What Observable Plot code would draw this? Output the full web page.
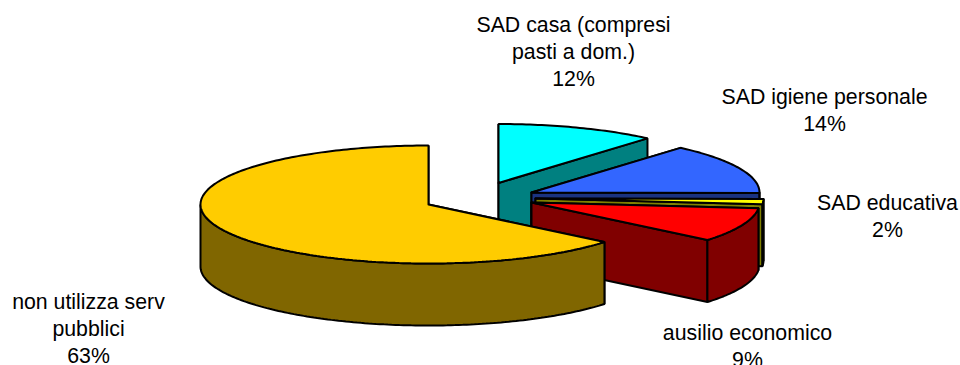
<!DOCTYPE html>
<html>
<head>
<meta charset="utf-8">
<style>
  html, body { margin: 0; padding: 0; background: #fff; overflow: hidden; }
  svg { display: block; }
</style>
<script src="https://cdn.jsdelivr.net/npm/d3@7"></script>
<script src="https://cdn.jsdelivr.net/npm/@observablehq/plot@0.6"></script>
</head>
<body>
<div id="chart"></div>
<script>
// Slices, clockwise from twelve o'clock
const categories = ["SAD casa (compresi\npasti a dom.)", "SAD igiene personale", "SAD educativa", "ausilio economico", "non utilizza serv\npubblici"];
const shares = [12, 14, 2, 9, 63];

const topColors = ["#00FFFF", "#3366FF", "#FFFF00", "#FF0000", "#FFCC00"];
const wallColors = ["#008080", "#1A3380", "#808000", "#800000", "#806600"];

// Exploded centre of each slice and anchor of each label, in chart units
const centres = [[498, 182.5], [531, 192], [535, 198], [531, 202], [428, 204]];
const labelAnchors = [[573, 12.5], [824, 84], [887, 190.5], [747, 320.5], [88, 289.5]];

const rx = 228, ry = 59, depth = 62;

// The tilted view foreshortens the sweep of the slices on the right-hand side
const sweep = d3.scaleLinear().domain([0, 12, 26, 28, 37, 100]).range([0, 40.8, 90.5, 95.5, 129.5, 360]);

const rad = (a) => (a * Math.PI) / 180;
const rim = ([cx, cy], a, drop = 0) => [cx + rx * Math.sin(rad(a)), cy - ry * Math.cos(rad(a)) + drop];
const arc = (c, a0, a1, drop = 0) => {
  const n = Math.max(2, Math.ceil(Math.abs(a1 - a0)));
  return d3.range(n + 1).map((i) => rim(c, a0 + ((a1 - a0) * i) / n, drop));
};
const closed = (pts) => [...pts, pts[0]];

const face = (pts, fill) =>
  Plot.line(closed(pts), {x: (d) => d[0], y: (d) => d[1], fill, stroke: "#000", strokeWidth: 2, strokeLinejoin: "miter"});

const cumulative = d3.cumsum(shares);
const marks = [];

shares.forEach((share, i) => {
  const c = centres[i];
  const a0 = sweep(cumulative[i] - share);
  const a1 = sweep(cumulative[i]);
  const under = [c[0], c[1] + depth];

  // radial cut faces first, so the top and rim paint over whichever face away
  marks.push(face([c, rim(c, a0), rim(c, a0, depth), under], wallColors[i]));
  marks.push(face([c, rim(c, a1), rim(c, a1, depth), under], wallColors[i]));

  // rim wall, only on the part of the circle turned towards the viewer
  const w0 = Math.max(a0, 90), w1 = Math.min(a1, 270);
  if (w1 > w0) marks.push(face([...arc(c, w0, w1), ...arc(c, w1, w0, depth)], wallColors[i]));

  // top surface
  marks.push(face([c, ...arc(c, a0, a1)], topColors[i]));
});

marks.push(
  Plot.text(categories, {
    x: (d, i) => labelAnchors[i][0],
    y: (d, i) => labelAnchors[i][1],
    text: (d, i) => `${d}\n${shares[i]}%`,
    textAnchor: "middle",
    lineAnchor: "top",
    lineHeight: 1.27,
    fontSize: 21.3,
    fill: "#000"
  })
);

const chart = Plot.plot({
  width: 960,
  height: 365,
  margin: 0,
  x: {domain: [0, 960], range: [0, 960], axis: null},
  y: {domain: [0, 365], range: [0, 365], axis: null},
  style: {fontFamily: "'Liberation Sans', Arial, sans-serif", background: "#fff"},
  marks
});
document.getElementById("chart").append(chart);
</script>
</body>
</html>
